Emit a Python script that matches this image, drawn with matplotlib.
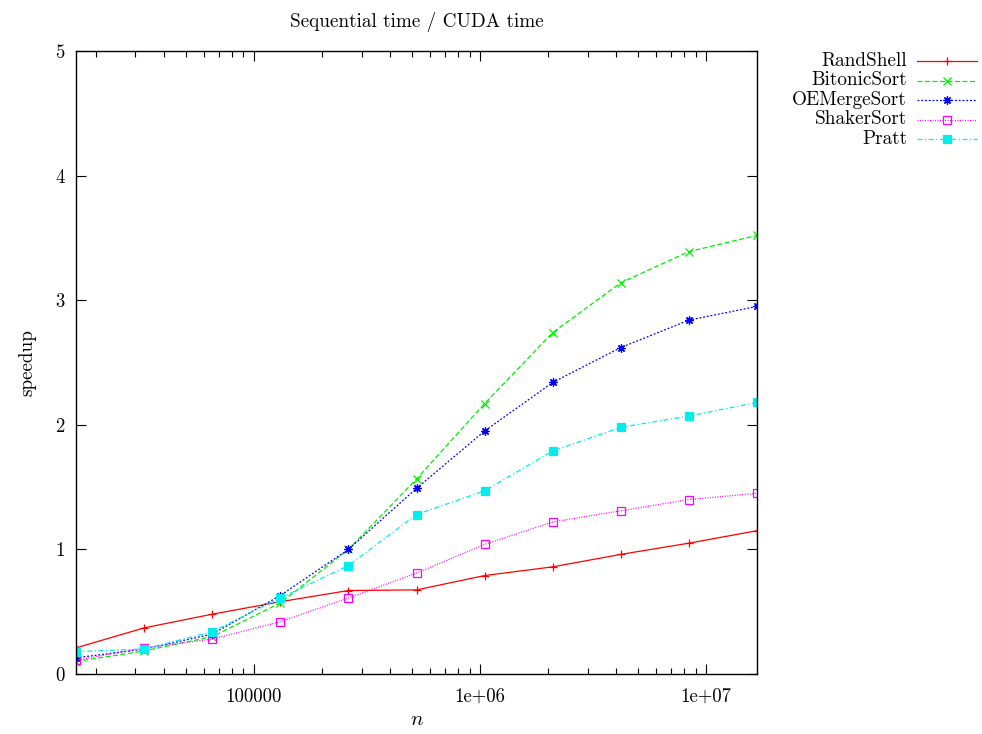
import matplotlib
matplotlib.use('Agg')
import matplotlib.pyplot as plt
from matplotlib.lines import Line2D
from matplotlib.ticker import FixedLocator, FuncFormatter, LogLocator, NullFormatter

plt.rcParams['font.family'] = ['cmr10', 'DejaVu Serif']
plt.rcParams['mathtext.fontset'] = 'cm'
plt.rcParams['axes.formatter.use_mathtext'] = True

# n = 2^14 .. 2^24
n = [2 ** k for k in range(14, 25)]

names = ['RandShell', 'BitonicSort', 'OEMergeSort', 'ShakerSort', 'Pratt']
randshell = [0.21, 0.37, 0.48, 0.58, 0.67, 0.675, 0.79, 0.86, 0.96, 1.05, 1.15]
bitonic = [0.10, 0.185, 0.30, 0.57, 1.00, 1.565, 2.17, 2.74, 3.14, 3.39, 3.52]
oemerge = [0.13, 0.20, 0.32, 0.63, 1.00, 1.49, 1.95, 2.34, 2.62, 2.84, 2.95]
shaker = [0.11, 0.21, 0.28, 0.42, 0.61, 0.81, 1.04, 1.22, 1.31, 1.40, 1.45]
pratt = [0.18, 0.20, 0.34, 0.61, 0.87, 1.28, 1.47, 1.79, 1.98, 2.07, 2.18]
series = [randshell, bitonic, oemerge, shaker, pratt]

colors = ['#ff0000', '#00ee00', '#0000ff', '#ff00ff', '#00eeee']
styles = ['-', (0, (4, 2)), (0, (1.5, 1.5)), (0, (0.8, 1.2)), (0, (4, 2, 1, 2))]
markers = ['+', 'x', (8, 2, 0), 's', 's']
faces = ['#ff0000', '#00ee00', '#0000ff', 'none', '#00eeee']

fig = plt.figure(figsize=(9.82, 7.34), dpi=100)
ax = fig.add_axes([76 / 982, 1 - 674 / 734, (757 - 76) / 982, (674 - 51) / 734])

for ys, c, ls, m, fc in zip(series, colors, styles, markers, faces):
    ax.plot(n, ys, color=c, linestyle=ls, linewidth=0.9, marker=m,
            markersize=6, markerfacecolor=fc, markeredgecolor=c, markeredgewidth=0.9)

ax.set_xscale('log')
ax.set_xlim(n[0], n[-1])
ax.set_ylim(0, 5)
ax.yaxis.set_major_locator(FixedLocator([0, 1, 2, 3, 4, 5]))
ax.yaxis.set_major_formatter(FuncFormatter(lambda v, p: '%d' % v))
ax.xaxis.set_major_locator(FixedLocator([1e5, 1e6, 1e7]))
ax.xaxis.set_major_formatter(FuncFormatter(lambda v, p: {1e5: '100000', 1e6: '1e+06', 1e7: '1e+07'}.get(v, '')))
ax.xaxis.set_minor_locator(LogLocator(base=10, subs=range(2, 10), numticks=20))
ax.xaxis.set_minor_formatter(NullFormatter())
ax.tick_params(which='both', direction='in', top=True, right=True, labelsize=13.5)
ax.tick_params(axis='x', pad=10)
ax.tick_params(axis='y', pad=8)
ax.tick_params(which='major', length=7, width=0.8)
ax.tick_params(which='minor', length=4, width=0.8)
for s in ax.spines.values():
    s.set_linewidth(1.0)

ax.set_title('Sequential time / CUDA time', fontsize=13.8, pad=17)
ax.set_xlabel('$n$', fontsize=15, labelpad=4)
ax.set_ylabel('speedup', fontsize=13.8, labelpad=14)

# legend, gnuplot style: label right-aligned, sample on the right
for i, (name, c, ls, m, fc) in enumerate(zip(names, colors, styles, markers, faces)):
    yy = 1 - (61 + i * 19.5) / 734
    fig.text(907 / 982, yy, name, ha='right', va='center', fontsize=13.8)
    fig.add_artist(Line2D([917 / 982, 977 / 982], [yy, yy], color=c, linestyle=ls, linewidth=0.9))
    fig.add_artist(Line2D([947 / 982], [yy], marker=m, markersize=6, color=c,
                          markerfacecolor=fc, markeredgecolor=c, markeredgewidth=0.9))

fig.savefig('out.png', dpi=100)
